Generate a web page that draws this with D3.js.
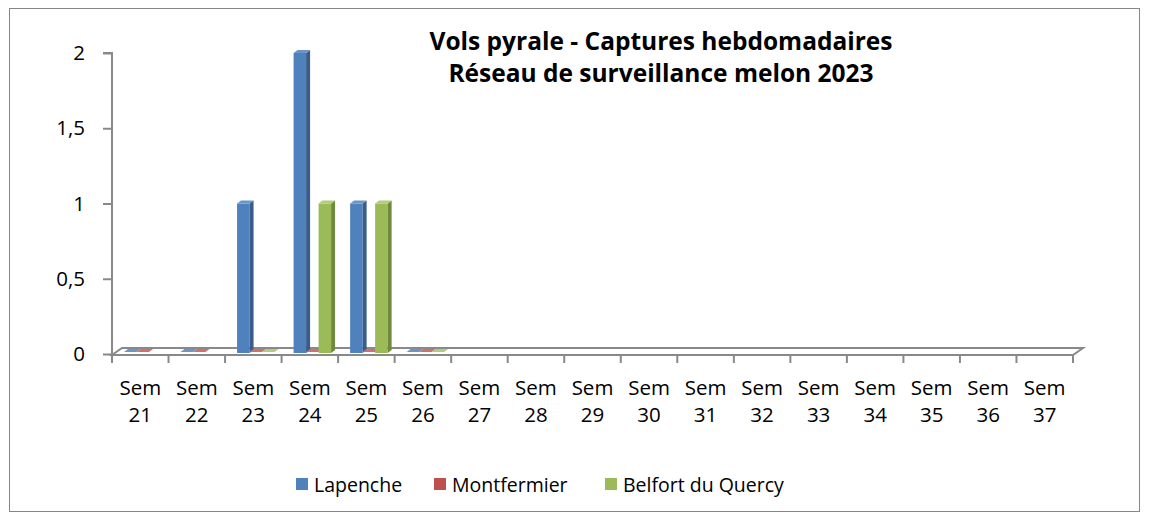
<!DOCTYPE html>
<html>
<head>
<meta charset="utf-8">
<script src="https://cdn.jsdelivr.net/npm/d3@7"></script>
<style>
  body { margin: 0; background: #fff; }
  text { font-family: "Open Sans", "Noto Sans", sans-serif; fill: #000; }
</style>
</head>
<body>
<svg id="chart" width="1149" height="520"></svg>
<script>
"use strict";
// data
var weeks = ["21", "22", "23", "24", "25", "26", "27", "28", "29", "30", "31", "32", "33", "34", "35", "36", "37"];
var seriesNames = ["Lapenche", "Montfermier", "Belfort du Quercy"];
var lapenche = [0, 0, 1, 2, 1, 0, null, null, null, null, null, null, null, null, null, null, null];
var montfermier = [0, 0, 0, 0, 0, 0, null, null, null, null, null, null, null, null, null, null, null];
var belfort = [null, null, 0, 1, 1, 0, null, null, null, null, null, null, null, null, null, null, null];
var yTicks = [0, 0.5, 1, 1.5, 2];
var titleLines = ["Vols pyrale - Captures hebdomadaires", "Réseau de surveillance melon 2023"];

var colors = [
    { front: "#4f81bd", side: "#385d8a", top: "#6b95c9" },
    { front: "#c0504d", side: "#8c3836", top: "#d06f6c" },
    { front: "#9bbb59", side: "#71893f", top: "#b2cc7a" }
];
var series = [lapenche, montfermier, belfort];

var svg = d3.select("#chart");
var depthX = 10, depthY = 7;   // floor depth
var barDx = 4, barDy = 3;      // bar depth

// outer frame
svg.append("rect")
    .attr("x", 9.5).attr("y", 8.5)
    .attr("width", 1130).attr("height", 503)
    .attr("fill", "none").attr("stroke", "#868686").attr("stroke-width", 1);

var x = d3.scaleBand().domain(weeks).range([112, 1073]).paddingInner(0).paddingOuter(0);
var y = d3.scaleLinear().domain([0, 2]).range([354, 53]);
var inner = d3.scaleBand().domain(d3.range(seriesNames.length))
    .range([12, 49.5]).paddingInner(0).paddingOuter(0);

var axisColor = "#898989";

// floor
var floorY = 355;
svg.append("path")
    .attr("d", "M" + x.range()[0] + "," + floorY +
        "L" + x.range()[1] + "," + floorY +
        "L" + (x.range()[1] + depthX) + "," + (floorY - depthY) +
        "L" + (x.range()[0] + depthX) + "," + (floorY - depthY) + "Z")
    .attr("fill", "#fff").attr("stroke", axisColor).attr("stroke-width", 2)
    .attr("stroke-linejoin", "miter");

// y axis
var yAxis = d3.axisLeft(y).tickValues(yTicks).tickSize(9).tickPadding(18)
    .tickFormat(function (d) { return String(d).replace(".", ","); });
var yg = svg.append("g").attr("transform", "translate(112,0)").call(yAxis);
yg.select(".domain").attr("stroke", axisColor).attr("stroke-width", 2)
    .attr("d", "M-9," + y(2) + "H0V" + floorY);
yg.selectAll(".tick line").attr("stroke", axisColor).attr("stroke-width", 2);
yg.selectAll(".tick text").attr("font-size", "20.5px").attr("font-family", "Open Sans, sans-serif").attr("fill", "#000");

// x axis
var xAxis = d3.axisBottom(x).tickSize(0).tickFormat("");
var xg = svg.append("g").attr("transform", "translate(0," + floorY + ")").call(xAxis);
xg.select(".domain").remove();
var bounds = weeks.map(function (w) { return x(w); }).concat([x.range()[1]]);
xg.selectAll("line.sep").data(bounds).enter().append("line")
    .attr("class", "sep")
    .attr("x1", function (d) { return d; }).attr("x2", function (d) { return d; })
    .attr("y1", 0).attr("y2", 8)
    .attr("stroke", axisColor).attr("stroke-width", 2);
var labels = svg.append("g").selectAll("text").data(weeks).enter().append("text")
    .attr("x", function (d) { return x(d) + x.bandwidth() / 2; })
    .attr("y", 395)
    .attr("text-anchor", "middle")
    .attr("font-size", "20.5px");
labels.append("tspan").attr("x", function (d) { return x(d) + x.bandwidth() / 2; }).text("Sem");
labels.append("tspan").attr("x", function (d) { return x(d) + x.bandwidth() / 2; })
    .attr("dy", 27).text(function (d) { return d; });

// bars
var bars = [];
series.forEach(function (vals, si) {
    vals.forEach(function (v, i) {
        if (v !== null) bars.push({ s: si, cat: weeks[i], v: v });
    });
});
var barBottom = y(0) - 1;
var bw = inner.bandwidth();
var bg = svg.append("g").selectAll("g").data(bars).enter().append("g");
bg.each(function (d) {
    var g = d3.select(this);
    var x0 = x(d.cat) + inner(d.s);
    var yt = d.v > 0 ? y(d.v) : barBottom - 1;
    var c = colors[d.s];
    if (d.v > 0) {
        g.append("rect").attr("x", x0).attr("y", yt)
            .attr("width", bw).attr("height", barBottom - yt).attr("fill", c.front);
        g.append("path")
            .attr("d", "M" + (x0 + bw) + "," + yt + "l" + barDx + "," + (-barDy) +
                "V" + (barBottom - barDy) + "l" + (-barDx) + "," + barDy + "Z")
            .attr("fill", c.side);
    }
    g.append("path")
        .attr("d", "M" + x0 + "," + yt + "l" + barDx + "," + (-barDy) +
            "h" + bw + "l" + (-barDx) + "," + barDy + "Z")
        .attr("fill", c.top);
});

// title
svg.append("text")
    .attr("x", 661).attr("y", 50)
    .attr("text-anchor", "middle")
    .attr("font-size", "24.5px").attr("font-weight", "bold")
    .selectAll("tspan").data(titleLines).enter().append("tspan")
    .attr("x", 661).attr("dy", function (d, i) { return i ? 32 : 0; })
    .text(function (d) { return d; });

// legend
var legendX = [296, 434, 605];
var lg = svg.append("g").selectAll("g").data(seriesNames).enter().append("g")
    .attr("transform", function (d, i) { return "translate(" + legendX[i] + ",478)"; });
lg.append("rect").attr("width", 12).attr("height", 12)
    .attr("fill", function (d, i) { return colors[i].front; });
lg.append("text").attr("x", 18).attr("y", 14).attr("font-size", "19.5px")
    .text(function (d) { return d; });
</script>
</body>
</html>
